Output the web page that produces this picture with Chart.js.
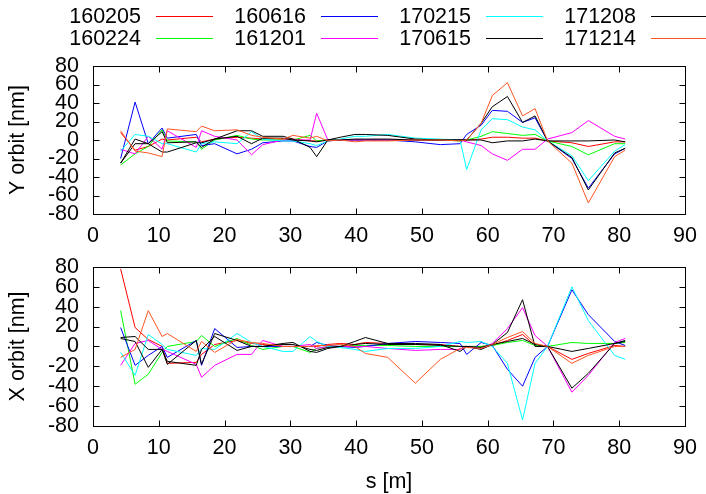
<!DOCTYPE html>
<html><head><meta charset="utf-8">
<script src="https://cdn.jsdelivr.net/npm/chart.js@4.4.1/dist/chart.umd.min.js"></script>
<style>
html,body{margin:0;padding:0;background:#fff;width:706px;height:494px;overflow:hidden;}
#wrap{position:relative;width:706px;height:494px;background:#fff;}
canvas{position:absolute;left:0;}
.lt{position:absolute;font-family:"Liberation Sans",Arial,sans-serif;font-size:21.5px;line-height:1;color:#000;text-align:right;width:200px;white-space:nowrap;}
.ll{position:absolute;height:1px;}
</style></head>
<body><div id="wrap">
<canvas id="cY" width="706" height="250" style="top:0px"></canvas>
<canvas id="cX" width="706" height="254" style="top:240px"></canvas>
<div id="legend"></div>
</div>
<script>
// BPM positions s [m]
const sPositions = [4.2, 6.4, 8.4, 10.5, 11.3, 15.7, 16.5, 18.5, 21.9, 24.1, 25.8, 28.9, 30.4, 33.0, 34.0, 35.7, 37.6, 39.8, 41.4, 44.8, 49.0, 52.8, 55.8, 56.8, 59.0, 60.7, 63.0, 65.3, 67.2, 69.1, 72.8, 75.3, 79.3, 80.9];

const seriesNames = ["160205", "160224", "160616", "161201", "170215", "170615", "171208", "171214"];
const seriesColors = ["#ff0000", "#00ff00", "#0000ff", "#ff00ff", "#00ffff", "#000000", "#000000", "#ff5522"];

const xTicks = [0, 10, 20, 30, 40, 50, 60, 70, 80, 90];
const yTicks = [-80, -60, -40, -20, 0, 20, 40, 60, 80];

// Y orbit [nm]
const yOrbit160205 = [8, -11, -7, 1, 0, 3, -2, 1, 3, 2, 1, 1, 1, -1, -1, 0, 0, 0, 0, 0, 0, 0, 0, 0, 1, 3, 3, 2, 2, -1, -3, -7, -2, -2];
const yOrbit160224 = [-27, -15, -7, 11, -1, -2, -10, 0, 5, 1, 0, 0, 0, 5, -1, 0, 0, 0, 0, 0, 0, 0, -1, 0, 4, 9, 7, 5, 6, -1, -7, -16, -4, -4];
const yOrbit160616 = [-20, 41, -4, 13, 2, 6, -6, -4, -15, -10, -3, -1, -1, -7, -8, -1, 0, 0, 0, 0, -2, -5, -4, 6, 16, 32, 31, 19, 24, -1, -20, -52, -15, -9];
const yOrbit161201 = [-10, -15, 4, -10, 10, -8, 10, 4, 0, -16, -5, 0, 0, 0, 29, 0, 0, 0, 0, 0, 0, 0, 0, -2, -6, -15, -22, -10, -10, 1, 8, 21, 4, 1];
const yOrbit170215 = [-12, 6, 4, -4, -4, -13, -4, -2, -4, 9, 1, -1, -1, -4, -6, -1, 1, 4, 4, 6, 2, 1, 0, -32, 11, 23, 22, 14, 11, -1, -17, -44, -12, -5];
const yOrbit170615 = [-25, 1, -4, 9, -3, -2, -8, 1, 10, 10, 4, 4, 1, -8, -18, 0, 3, 6, 6, 5, 1, 0, 0, 0, 18, 36, 47, 19, 26, -1, -19, -54, -14, -9];
const yOrbit171208 = [-25, -4, -4, -13, -13, -3, -3, 1, 4, -4, 2, 2, 0, -1, -2, 0, 0, 1, 1, 1, 0, 0, 0, 0, 0, -3, -1, -1, 1, -1, -1, -1, 0, -2];
const yOrbit171214 = [10, -12, -14, -18, 12, 9, 15, 10, 11, 5, 3, 1, 5, 2, 4, -1, 0, -2, -1, -1, 0, 0, -1, 0, 18, 48, 62, 26, 34, -1, -25, -68, -18, -11];

// X orbit [nm]
const xOrbit160205 = [78, 19, 7, 0, -17, -16, -8, 2, 6, 3, 2, 0, 0, 0, 0, 2, 3, 2, 4, 3, 2, 2, 0, 0, 0, 1, 6, 12, 1, 0, -13, -7, 1, 0];
const xOrbit160224 = [36, -38, -28, -6, 0, 5, 11, 0, 8, 1, -3, 0, 0, -6, -2, 0, 0, 1, 1, 1, 0, 0, 0, 0, 0, 1, 4, 6, 1, 0, 4, 3, 3, 4];
const xOrbit160616 = [19, -19, -9, 0, -11, 6, -19, 18, -1, 0, 0, 0, 0, 0, 4, 1, 0, -1, 0, 3, 5, 4, 3, -8, 4, 1, -23, -40, -11, 0, 57, 32, 5, 1];
const xOrbit161201 = [-19, 3, 6, -3, -5, -18, -31, -19, -8, -8, 6, 0, 0, 2, -2, 0, 0, 0, 0, -2, -4, -3, -3, 0, -2, 3, 18, 39, 11, 0, -46, -29, 4, 8];
const xOrbit170215 = [-6, -29, 12, 2, -3, -9, -2, -3, 13, 4, 0, -5, -5, 10, 5, 0, -1, -3, -5, -2, -2, 0, 5, 4, 5, 0, -17, -74, -17, 0, 60, 26, -9, -13];
const xOrbit170615 = [9, 10, -3, -3, -18, 6, -18, 13, 6, 0, 0, 3, 4, -5, -6, -2, 0, 5, 9, 3, 3, 2, -5, 0, -3, 2, 14, 47, 0, 0, -42, -27, 3, 6];
const xOrbit171208 = [8, 5, -21, -3, -15, -19, -3, 10, -4, 0, 0, 2, 2, -3, -4, -1, 0, 2, 3, 2, 2, 1, 0, 0, -1, 2, 5, 8, 2, 0, -5, -2, 3, 5];
const xOrbit171214 = [-11, -3, 36, 10, 13, -5, 5, -6, 7, 4, 3, 0, 0, 0, 1, 1, 2, 0, -7, -11, -37, -13, -2, -1, -2, 2, 9, 15, 3, 0, -17, -9, 0, 0];

const yOrbitSeries = [yOrbit160205, yOrbit160224, yOrbit160616, yOrbit161201, yOrbit170215, yOrbit170615, yOrbit171208, yOrbit171214];
const xOrbitSeries = [xOrbit160205, xOrbit160224, xOrbit160616, xOrbit161201, xOrbit170215, xOrbit170615, xOrbit171208, xOrbit171214];

const FONT = "'Liberation Sans', Arial, Helvetica, sans-serif";
const FS = 21.5;

function makeDatasets(series) {
  return series.map((vals, i) => ({
    label: seriesNames[i],
    data: vals.map((v, k) => ({x: sPositions[k], y: v})),
    borderColor: seriesColors[i],
    backgroundColor: seriesColors[i],
    borderWidth: 1,
    pointRadius: 0,
    fill: false,
    tension: 0,
    order: series.length - i
  }));
}

const framePlugin = {
  id: 'frame',
  afterDraw(chart) {
    const {ctx, chartArea: a} = chart;
    const xs = chart.scales.x, ys = chart.scales.y;
    ctx.save();
    ctx.strokeStyle = '#000';
    ctx.lineWidth = 1;
    ctx.beginPath();
    const L = Math.round(a.left) + 0.5, R = Math.round(a.right) + 0.5;
    const T = Math.round(a.top) + 0.5, B = Math.round(a.bottom) + 0.5;
    xs.ticks.forEach(t => {
      const px = Math.round(xs.getPixelForValue(t.value)) + 0.5;
      ctx.moveTo(px, B); ctx.lineTo(px, B - 6);
      ctx.moveTo(px, T); ctx.lineTo(px, T + 6);
    });
    ys.ticks.forEach(t => {
      const py = Math.round(ys.getPixelForValue(t.value)) + 0.5;
      ctx.moveTo(L, py); ctx.lineTo(L + 6, py);
      ctx.moveTo(R, py); ctx.lineTo(R - 6, py);
    });
    ctx.stroke();
    ctx.strokeRect(L, T, R - L, B - T);
    ctx.restore();
  }
};

function makeChart(id, series, yTitle, opts) {
  return new Chart(document.getElementById(id), {
    type: 'line',
    data: {datasets: makeDatasets(series)},
    options: {
      responsive: false,
      animation: false,
      devicePixelRatio: 1,
      layout: {padding: {top: opts.padTop, right: 20, left: 0, bottom: 0}},
      plugins: {legend: {display: false}, tooltip: {enabled: false}},
      scales: {
        x: {
          type: 'linear', min: 0, max: 90,
          afterBuildTicks: s => { s.ticks = xTicks.map(v => ({value: v})); },
          ticks: {color: '#000', font: {family: FONT, size: FS}, padding: 9, maxRotation: 0, autoSkip: false},
          grid: {display: false, drawTicks: false},
          border: {display: false},
          title: opts.xTitle ? {display: true, text: opts.xTitle, color: '#000', font: {family: FONT, size: FS, lineHeight: 1.1}, padding: {top: 0, bottom: 0}} : {display: false},
          afterFit: s => { s.height = opts.xHeight; }
        },
        y: {
          type: 'linear', min: -80, max: 80,
          afterBuildTicks: s => { s.ticks = yTicks.map(v => ({value: v})); },
          ticks: {color: '#000', font: {family: FONT, size: FS}, padding: 14, autoSkip: false},
          grid: {display: false, drawTicks: false},
          border: {display: false},
          title: {display: true, text: yTitle, color: '#000', font: {family: FONT, size: FS, lineHeight: 1.2}, padding: {top: 5, bottom: 0}},
          afterFit: s => { s.width = 93; }
        }
      }
    },
    plugins: [framePlugin]
  });
}

makeChart('cY', yOrbitSeries, 'Y orbit [nm]', {padTop: 66, xHeight: 36});
makeChart('cX', xOrbitSeries, 'X orbit [nm]', {padTop: 21, xHeight: 68, xTitle: 's [m]'});

// Legend (two rows, four columns)
const legend = document.getElementById('legend');
seriesNames.forEach((name, i) => {
  const col = Math.floor(i / 2), row = i % 2;
  const cy = row === 0 ? 16 : 38;
  const edge = 141 + col * 165;
  const t = document.createElement('div');
  t.className = 'lt';
  t.textContent = name;
  t.style.left = (edge - 200) + 'px';
  t.style.top = (cy - 10.5) + 'px';
  legend.appendChild(t);
  const l = document.createElement('div');
  l.className = 'll';
  l.style.left = (156 + col * 165) + 'px';
  l.style.width = '57px';
  l.style.top = (cy) + 'px';
  l.style.background = seriesColors[i];
  legend.appendChild(l);
});
</script>
</body></html>
